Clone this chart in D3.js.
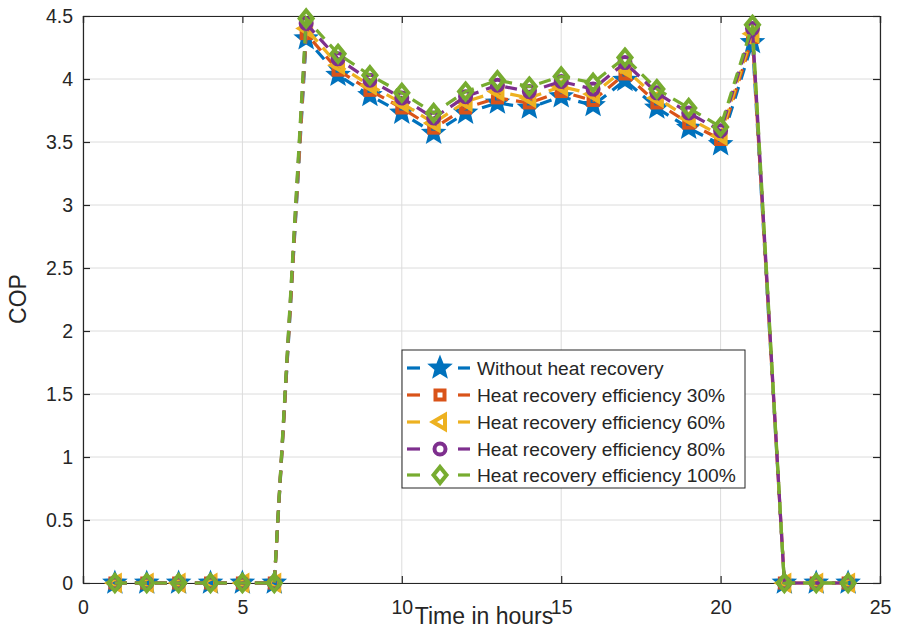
<!DOCTYPE html>
<html>
<head>
<meta charset="utf-8">
<script src="https://cdn.jsdelivr.net/npm/d3@7"></script>
<style>
  html, body { margin: 0; padding: 0; background: #fff; }
  svg { display: block; font-family: "Liberation Sans", Arial, Helvetica, sans-serif; }
</style>
</head>
<body>
<svg id="chart" width="897" height="637"></svg>
<script>
const hours = d3.range(1, 25);
const seriesNames = [
  "Without heat recovery",
  "Heat recovery efficiency 30%",
  "Heat recovery efficiency 60%",
  "Heat recovery efficiency 80%",
  "Heat recovery efficiency 100%"
];
const withoutRecovery = [0,0,0,0,0,0,4.32,4.03,3.87,3.73,3.57,3.73,3.81,3.77,3.86,3.79,3.99,3.77,3.61,3.48,4.29,0,0,0];
const recovery30      = [0,0,0,0,0,0,4.36,4.07,3.91,3.77,3.61,3.77,3.85,3.81,3.90,3.83,4.04,3.81,3.65,3.52,4.33,0,0,0];
const recovery60      = [0,0,0,0,0,0,4.40,4.11,3.95,3.81,3.65,3.82,3.90,3.85,3.94,3.88,4.08,3.85,3.69,3.55,4.36,0,0,0];
const recovery80      = [0,0,0,0,0,0,4.44,4.16,3.99,3.85,3.69,3.86,3.95,3.90,3.98,3.92,4.13,3.89,3.73,3.59,4.40,0,0,0];
const recovery100     = [0,0,0,0,0,0,4.48,4.20,4.03,3.89,3.73,3.90,3.99,3.94,4.02,3.97,4.17,3.92,3.77,3.62,4.43,0,0,0];
const seriesValues = [withoutRecovery, recovery30, recovery60, recovery80, recovery100];
const colors = ["#0072BD", "#D95319", "#EDB120", "#7E2F8E", "#77AC30"];
const markerTypes = ["star", "square", "triangleLeft", "circle", "diamond"];
const xTicks = [0, 5, 10, 15, 20, 25];
const yTicks = [0, 0.5, 1, 1.5, 2, 2.5, 3, 3.5, 4, 4.5];

const svg = d3.select("#chart");
const L = 83, T = 16, R = 880, B = 583;
const x = d3.scaleLinear().domain([0, 25]).range([L, R]);
const y = d3.scaleLinear().domain([0, 4.5]).range([B, T]);
const axisColor = "#262626";

// grid
const grid = svg.append("g");
grid.selectAll(".gx").data(xTicks).join("line")
  .attr("x1", d => x(d)).attr("x2", d => x(d)).attr("y1", T).attr("y2", B)
  .attr("stroke", "#dcdcdc").attr("stroke-width", 1);
grid.selectAll(".gy").data(yTicks).join("line")
  .attr("y1", d => y(d)).attr("y2", d => y(d)).attr("x1", L).attr("x2", R)
  .attr("stroke", "#dcdcdc").attr("stroke-width", 1);

// axes (ticks inside)
const fmt = d => d3.format("")(d);
const xAxis = svg.append("g").attr("transform", `translate(0,${B})`)
  .call(d3.axisBottom(x).tickValues(xTicks).tickSize(-7).tickPadding(17).tickFormat(fmt));
const xTop = svg.append("g").attr("transform", `translate(0,${T})`)
  .call(d3.axisTop(x).tickValues(xTicks).tickSize(-7).tickFormat(""));
const yAxis = svg.append("g").attr("transform", `translate(${L},0)`)
  .call(d3.axisLeft(y).tickValues(yTicks).tickSize(-7).tickPadding(10).tickFormat(fmt));
const yRight = svg.append("g").attr("transform", `translate(${R},0)`)
  .call(d3.axisRight(y).tickValues(yTicks).tickSize(-7).tickFormat(""));
[xAxis, xTop, yAxis, yRight].forEach(g => {
  g.select(".domain").attr("stroke", axisColor).attr("stroke-width", 1.2);
  g.selectAll(".tick line").attr("stroke", axisColor).attr("stroke-width", 1.2);
  g.selectAll(".tick text").attr("fill", axisColor).attr("font-size", 19.5)
    .attr("font-family", "Liberation Sans, Arial, sans-serif");
});
xAxis.selectAll(".tick text").attr("dy", "0.71em");

// axis labels
svg.append("text").attr("x", 484).attr("y", 624).attr("text-anchor", "middle")
  .attr("font-size", 23).attr("fill", axisColor).text("Time in hours");
svg.append("text").attr("transform", "translate(26,299) rotate(-90)")
  .attr("text-anchor", "middle").attr("font-size", 23).attr("fill", axisColor).text("COP");

// markers
function starPath(ro, ri) {
  let p = [];
  for (let i = 0; i < 10; i++) {
    const r = i % 2 === 0 ? ro : ri;
    const a = -Math.PI / 2 + i * Math.PI / 5;
    p.push([r * Math.cos(a), r * Math.sin(a)]);
  }
  return "M" + p.map(q => q.join(",")).join("L") + "Z";
}
function drawMarker(g, type, color) {
  if (type === "star") {
    g.append("path").attr("d", starPath(11, 4.8)).attr("fill", color)
      .attr("stroke", color).attr("stroke-width", 1.8).attr("stroke-linejoin", "miter");
  } else if (type === "square") {
    g.append("rect").attr("x", -4.5).attr("y", -4.5).attr("width", 9).attr("height", 9)
      .attr("fill", "none").attr("stroke", color).attr("stroke-width", 4);
  } else if (type === "triangleLeft") {
    g.append("path").attr("d", "M-7,0L5,-7L5,7Z").attr("fill", "none")
      .attr("stroke", color).attr("stroke-width", 4).attr("stroke-linejoin", "miter");
  } else if (type === "circle") {
    g.append("circle").attr("r", 5.5).attr("fill", "none")
      .attr("stroke", color).attr("stroke-width", 4);
  } else if (type === "diamond") {
    g.append("path").attr("d", "M0,-8L6.5,0L0,8L-6.5,0Z").attr("fill", "none")
      .attr("stroke", color).attr("stroke-width", 4).attr("stroke-linejoin", "miter");
  }
}

const line = d3.line().x(d => x(d[0])).y(d => y(d[1]));
const plot = svg.append("g");
seriesValues.forEach((vals, i) => {
  const pts = hours.map((h, k) => [h, vals[k]]);
  const g = plot.append("g");
  g.append("path").datum(pts).attr("d", line)
    .attr("fill", "none").attr("stroke", colors[i]).attr("stroke-width", 3.2)
    .attr("stroke-dasharray", "12,8");
  pts.forEach(p => {
    const m = g.append("g").attr("transform", `translate(${x(p[0])},${y(p[1])})`);
    drawMarker(m, markerTypes[i], colors[i]);
  });
});

// legend
const lg = svg.append("g");
lg.append("rect").attr("x", 402).attr("y", 350).attr("width", 343).attr("height", 138)
  .attr("fill", "#fff").attr("stroke", axisColor).attr("stroke-width", 1);
const rowY = [368, 395, 422, 449, 475];
seriesNames.forEach((name, i) => {
  const ry = rowY[i];
  lg.append("line").attr("x1", 407).attr("x2", 420).attr("y1", ry).attr("y2", ry)
    .attr("stroke", colors[i]).attr("stroke-width", 3.2);
  lg.append("line").attr("x1", 458).attr("x2", 470).attr("y1", ry).attr("y2", ry)
    .attr("stroke", colors[i]).attr("stroke-width", 3.2);
  const m = lg.append("g").attr("transform", `translate(440,${ry})`);
  drawMarker(m, markerTypes[i], colors[i]);
  lg.append("text").attr("x", 477).attr("y", ry).attr("dy", "0.35em")
    .attr("font-size", 19.2).attr("fill", axisColor).text(name);
});
</script>
</body>
</html>
